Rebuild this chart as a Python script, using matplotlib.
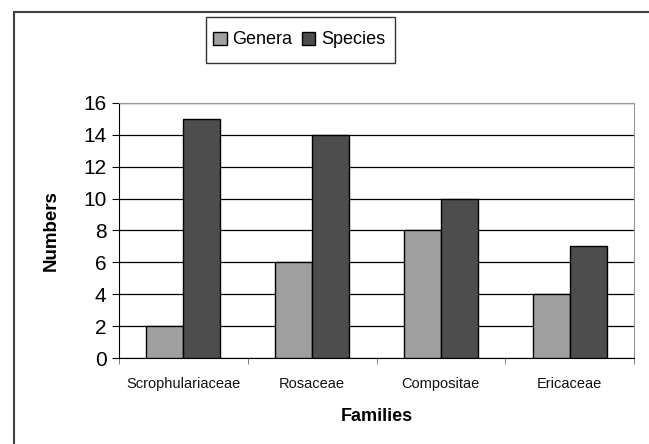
import numpy as np
import matplotlib.pyplot as plt
from matplotlib.patches import Rectangle

plt.rcParams['font.family'] = ['Liberation Sans', 'DejaVu Sans']

families = ["Scrophulariaceae", "Rosaceae", "Compositae", "Ericaceae"]
genera = [2, 6, 8, 4]
species = [15, 14, 10, 7]

W, H = 649, 444
fig = plt.figure(figsize=(W / 100, H / 100), dpi=100)
ax = fig.add_axes([119 / W, 1 - 358 / H, (634 - 119) / W, (358 - 103) / H])

x = np.arange(len(families))
w = 0.287
ax.bar(x - w / 2, genera, w, color="#a0a0a0", edgecolor="black", linewidth=1, label="Genera", zorder=3)
ax.bar(x + w / 2, species, w, color="#4d4d4d", edgecolor="black", linewidth=1, label="Species", zorder=3)

ax.set_xlim(-0.5, len(families) - 0.5)
ax.set_ylim(0, 16)
ax.set_yticks(range(0, 17, 2))
ax.yaxis.grid(True, color="black", linewidth=0.9, zorder=0)
ax.set_axisbelow(True)

ax.set_xticks(x)
ax.set_xticklabels(families, fontsize=10.5, color="#111111")
ax.set_xticks(np.arange(-0.5, len(families), 1), minor=True)
ax.tick_params(axis="x", which="major", length=0, pad=14)
ax.tick_params(axis="x", which="minor", length=4, direction="out", color="#666666")
ax.tick_params(axis="y", length=5, direction="out", labelsize=15, pad=4)

for side in ["top", "right"]:
    ax.spines[side].set_color("#999999")
for side in ["left", "bottom"]:
    ax.spines[side].set_color("black")

ax.set_xlabel("Families", fontsize=13, fontweight="bold", labelpad=12)
ax.set_ylabel("Numbers", fontsize=13.5, fontweight="bold", labelpad=17)

# legend entries without frame; box drawn separately
fig.legend(loc="center", bbox_to_anchor=(299 / W, 1 - 40 / H), ncol=2,
           fontsize=13, frameon=False,
           handlelength=0.75, handleheight=0.75, handletextpad=0.3,
           columnspacing=0.55, borderpad=0, borderaxespad=0)
fig.add_artist(Rectangle((206 / W, 1 - 63 / H), (395 - 206) / W, 46 / H,
                         transform=fig.transFigure, fill=False,
                         edgecolor="#333333", linewidth=1))

# outer chart frame, open to the right and bottom
fig.add_artist(Rectangle((14 / W, -0.5), 2, 1.5 - 12 / H, transform=fig.transFigure,
                         fill=False, edgecolor="#404040", linewidth=1.5))

fig.savefig("out.png", dpi=100)
